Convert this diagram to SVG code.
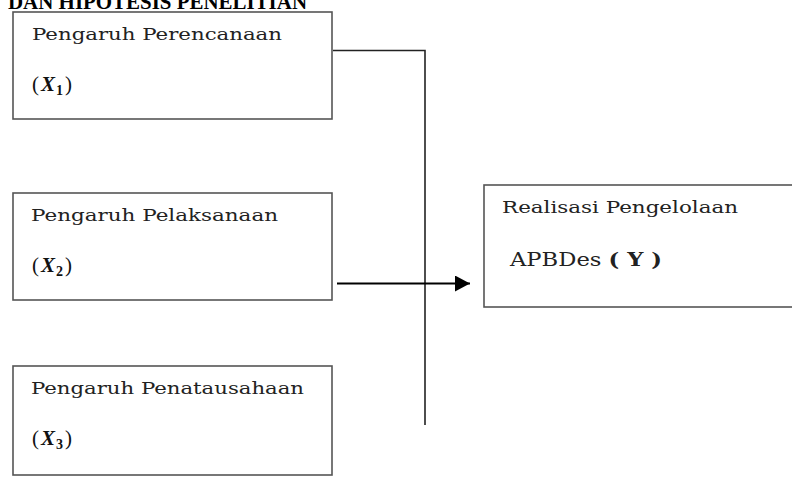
<svg xmlns="http://www.w3.org/2000/svg" width="792" height="482" viewBox="0 0 792 482">
<defs>
<style>
.box{fill:#fff;stroke:#555;stroke-width:1.6}
.t{font-family:"DejaVu Serif","Liberation Serif",serif;font-size:16px;fill:#222}
.x{font-family:"Liberation Serif",serif;font-size:21px;fill:#111}
.title{font-family:"Liberation Serif",serif;font-size:21px;font-weight:bold;fill:#000}
.conn{fill:none;stroke:#222;stroke-width:1.6}
</style>
<marker id="ah" markerWidth="16" markerHeight="16" refX="15" refY="8" orient="auto" markerUnits="userSpaceOnUse">
<path d="M0,0 L15,8 L0,16 Z" fill="#000"/>
</marker>
</defs>
<rect width="792" height="482" fill="#fff"/>
<text class="title" x="8" y="9" textLength="299" lengthAdjust="spacingAndGlyphs">DAN HIPOTESIS PENELITIAN</text>

<g id="connectors">
<polyline class="conn" points="333,50.5 425,50.5 425,425"/>
<line x1="337" y1="283.5" x2="470" y2="283.5" stroke="#000" stroke-width="2.2" marker-end="url(#ah)"/>
</g>

<g id="x1">
<rect class="box" x="13" y="12" width="319" height="107"/>
<text class="t" x="32" y="40" textLength="250" lengthAdjust="spacingAndGlyphs">Pengaruh  Perencanaan</text>
<text class="x" x="32" y="91">(<tspan font-weight="bold" font-style="italic" dx="2">X</tspan><tspan font-weight="bold" font-size="14" dy="4" dx="1">1</tspan><tspan dy="-4" dx="2">)</tspan></text>
</g>

<g id="x2">
<rect class="box" x="13" y="193" width="319" height="107"/>
<text class="t" x="31" y="221" textLength="247" lengthAdjust="spacingAndGlyphs">Pengaruh  Pelaksanaan</text>
<text class="x" x="32" y="272">(<tspan font-weight="bold" font-style="italic" dx="2">X</tspan><tspan font-weight="bold" font-size="14" dy="4" dx="1">2</tspan><tspan dy="-4" dx="2">)</tspan></text>
</g>

<g id="x3">
<rect class="box" x="13" y="366" width="319" height="109"/>
<text class="t" x="31" y="394" textLength="273" lengthAdjust="spacingAndGlyphs">Pengaruh  Penatausahaan</text>
<text class="x" x="32" y="445">(<tspan font-weight="bold" font-style="italic" dx="2">X</tspan><tspan font-weight="bold" font-size="14" dy="4" dx="1">3</tspan><tspan dy="-4" dx="2">)</tspan></text>
</g>

<g id="y">
<rect class="box" x="484" y="185" width="320" height="122"/>
<text class="t" x="502" y="213" textLength="236" lengthAdjust="spacingAndGlyphs">Realisasi Pengelolaan</text>
<text class="t" x="510" y="266" style="font-size:18px" textLength="152" lengthAdjust="spacingAndGlyphs">APBDes <tspan font-weight="bold">( Y )</tspan></text>
</g>
</svg>
